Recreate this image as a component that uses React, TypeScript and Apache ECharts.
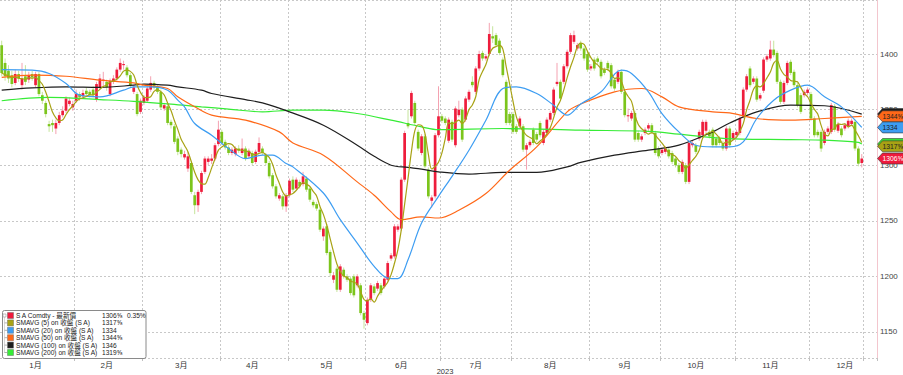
import React, { useEffect, useRef } from "react";
import * as echarts from "echarts";

// ---- axis / calendar ----
const monthLabels = ["1月", "2月", "3月", "4月", "5月", "6月", "7月", "8月", "9月", "10月", "11月", "12月"];
const monthDays = [22, 20, 23, 20, 23, 22, 21, 23, 21, 22, 22, 16]; // weekdays shown per month
const monthLabelSpan = [22, 20, 23, 20, 23, 22, 21, 23, 21, 22, 22, 21];
const padDays = 4;
const yearLabel = "2023";

// ---- candles: [open, close, low, high] ----
const candles: number[][] = [
  [1408,1383,1380,1412],[1392,1380,1376,1396],[1385,1378,1374,1390],[1381,1373,1370,1385],[1374,1382,1372,1386],
  [1382,1378,1375,1385],[1372,1378,1368,1392],[1380,1375,1372,1390],[1377,1381,1374,1384],[1382,1379,1376,1385],
  [1372,1382,1370,1384],[1382,1364,1362,1384],[1363,1358,1355,1366],[1356,1346,1343,1358],[1337,1335,1330,1340],
  [1338,1336,1330,1341],[1333,1338,1328,1341],[1338,1345,1336,1348],[1345,1349,1343,1353],[1349,1360,1347,1362],
  [1355,1358,1353,1361],[1352,1355,1349,1358],
  [1358,1364,1356,1368],[1364,1361,1358,1366],[1362,1365,1360,1368],[1367,1364,1362,1370],[1366,1363,1361,1368],
  [1368,1363,1361,1371],[1359,1373,1357,1375],[1370,1378,1368,1382],[1376,1377,1370,1384],[1375,1370,1367,1377],
  [1364,1376,1362,1378],[1375,1378,1373,1381],[1378,1386,1376,1388],[1386,1392,1384,1396],[1390,1391,1386,1394],
  [1388,1381,1379,1390],[1381,1372,1370,1383],[1366,1370,1364,1372],[1364,1346,1344,1366],[1348,1358,1346,1360],
  [1356,1361,1354,1363],[1358,1369,1356,1371],[1368,1374,1366,1380],[1374,1370,1368,1376],[1370,1366,1364,1372],
  [1366,1352,1350,1368],[1351,1354,1349,1356],[1353,1338,1336,1355],[1339,1336,1333,1341],[1335,1321,1319,1337],
  [1324,1312,1309,1326],[1314,1310,1307,1316],[1307,1310,1305,1313],[1297,1308,1294,1312],[1302,1276,1274,1304],
  [1273,1264,1256,1276],[1264,1276,1258,1278],[1276,1293,1274,1295],[1294,1306,1292,1308],[1303,1306,1300,1308],
  [1304,1306,1301,1310],[1306,1318,1304,1320],[1319,1332,1317,1340],
  [1330,1320,1318,1332],[1321,1316,1314,1323],[1316,1311,1309,1318],[1311,1314,1309,1316],[1310,1315,1308,1317],
  [1315,1313,1311,1318],[1311,1315,1309,1324],[1315,1306,1304,1317],[1308,1313,1306,1315],[1311,1302,1300,1313],
  [1303,1312,1301,1314],[1312,1320,1310,1325],[1315,1311,1309,1317],[1309,1302,1300,1311],[1302,1290,1288,1304],
  [1291,1281,1279,1293],[1281,1272,1270,1283],[1270,1273,1268,1275],[1272,1263,1260,1274],[1263,1273,1258,1275],
  [1273,1286,1271,1288],[1287,1278,1276,1290],[1279,1287,1277,1289],[1285,1281,1279,1287],[1283,1290,1281,1294],
  [1288,1278,1276,1290],[1279,1269,1267,1281],[1267,1264,1262,1269],[1265,1261,1259,1267],[1260,1242,1240,1262],
  [1236,1243,1232,1245],[1245,1221,1219,1247],[1222,1203,1200,1224],[1197,1201,1194,1204],[1207,1188,1186,1209],
  [1188,1209,1186,1211],[1206,1200,1198,1208],[1200,1197,1195,1202],[1198,1185,1183,1200],[1200,1183,1181,1202],
  [1192,1200,1190,1202],[1192,1167,1165,1194],[1167,1161,1153,1169],
  [1158,1179,1156,1181],[1179,1192,1177,1194],[1191,1185,1183,1193],[1189,1194,1187,1196],[1192,1185,1183,1194],
  [1191,1198,1189,1200],[1197,1212,1195,1214],[1216,1219,1214,1221],[1218,1245,1216,1247],[1242,1245,1240,1247],
  [1243,1287,1241,1289],[1287,1329,1285,1331],[1338,1335,1333,1350],[1344,1365,1342,1367],[1356,1338,1336,1358],
  [1330,1315,1313,1332],[1311,1326,1309,1328],[1326,1299,1297,1328],[1296,1272,1270,1298],[1268,1271,1262,1273],
  [1272,1327,1270,1329],[1327,1344,1325,1371],
  [1344,1340,1338,1346],[1342,1338,1336,1344],[1322,1341,1320,1343],[1339,1323,1321,1341],[1318,1351,1316,1353],
  [1345,1350,1343,1358],[1350,1323,1321,1352],[1341,1360,1339,1362],[1359,1366,1357,1368],[1375,1372,1370,1380],
  [1366,1387,1364,1389],[1387,1400,1385,1403],[1401,1396,1394,1403],[1396,1398,1394,1400],[1400,1418,1398,1428],
  [1416,1414,1410,1425],[1417,1408,1406,1419],[1412,1401,1399,1414],[1395,1381,1379,1397],[1375,1338,1336,1377],
  [1346,1338,1336,1348],
  [1346,1330,1328,1348],[1335,1330,1328,1337],[1335,1342,1333,1344],[1335,1314,1312,1337],[1314,1318,1296,1320],
  [1318,1321,1316,1323],[1332,1320,1318,1334],[1328,1323,1321,1330],[1338,1327,1325,1340],[1320,1330,1318,1332],
  [1329,1341,1327,1343],[1341,1347,1339,1349],[1347,1368,1345,1370],[1373,1375,1371,1392],[1375,1360,1358,1377],
  [1375,1389,1373,1391],[1389,1402,1387,1404],[1402,1417,1400,1419],[1411,1417,1409,1421],[1405,1408,1403,1410],
  [1410,1405,1403,1412],[1405,1396,1394,1407],[1400,1386,1384,1402],
  [1387,1389,1385,1391],[1395,1387,1385,1397],[1396,1393,1391,1398],[1393,1380,1378,1395],[1386,1383,1381,1388],
  [1392,1387,1385,1394],[1390,1371,1369,1392],[1377,1369,1367,1379],[1375,1384,1373,1386],[1384,1366,1364,1386],
  [1366,1345,1343,1368],[1344,1345,1339,1351],[1342,1347,1340,1349],[1347,1323,1321,1349],[1329,1323,1321,1331],
  [1323,1326,1321,1328],[1329,1332,1327,1334],[1333,1336,1331,1338],[1336,1330,1328,1338],[1329,1311,1309,1331],
  [1315,1308,1306,1317],
  [1311,1314,1309,1316],[1312,1315,1310,1317],[1314,1308,1306,1316],[1311,1303,1301,1313],[1306,1300,1298,1308],
  [1300,1294,1292,1302],[1294,1303,1292,1305],[1300,1285,1283,1302],[1285,1320,1283,1322],[1318,1320,1316,1322],
  [1318,1312,1310,1320],[1324,1330,1322,1332],[1327,1339,1325,1341],[1331,1339,1329,1341],[1330,1326,1324,1332],
  [1332,1318,1316,1334],[1324,1318,1316,1326],[1324,1320,1318,1326],[1320,1315,1313,1322],[1315,1333,1313,1335],
  [1333,1318,1316,1335],[1324,1329,1322,1331],
  [1327,1330,1325,1332],[1329,1342,1327,1344],[1344,1368,1342,1370],[1368,1380,1366,1382],[1387,1372,1370,1389],
  [1375,1378,1373,1380],[1378,1359,1357,1380],[1360,1363,1358,1365],[1367,1395,1365,1397],[1395,1398,1393,1400],
  [1396,1404,1394,1412],[1404,1399,1397,1412],[1401,1375,1373,1403],[1375,1357,1355,1377],[1357,1374,1355,1376],
  [1374,1392,1372,1394],[1393,1383,1381,1395],[1384,1372,1370,1386],[1372,1354,1352,1374],[1363,1348,1346,1365],
  [1363,1366,1361,1368],[1365,1368,1363,1370],
  [1364,1342,1340,1366],[1342,1327,1325,1344],[1330,1327,1325,1332],[1330,1315,1312,1332],[1320,1330,1318,1332],
  [1330,1333,1328,1335],[1330,1354,1328,1356],[1353,1332,1330,1355],[1331,1337,1329,1339],[1333,1327,1325,1335],
  [1333,1336,1331,1338],[1335,1340,1333,1342],[1337,1340,1335,1342],[1339,1315,1313,1341],[1315,1301.4,1299,1317],
  [1302,1306,1298,1310],
];

// ---- moving averages: [candle index, value] ----
const ma20: number[][] = [[0,1386],[9,1385.5],[14,1382.5],[19,1373.5],[23,1363],[29,1361.5],[36,1367.5],[39,1370.5],[44,1370.5],[49,1367.5],[52,1358.5],[54,1352.5],[57,1337.5],[62,1327],[67,1315],[72,1306],[77,1309],[80,1309],[84,1301.5],[86,1298.5],[95,1275],[100,1251],[105,1230],[110,1209],[114,1198.5],[117,1198],[120,1215],[124,1248],[129,1272],[133,1290],[138,1313.5],[143,1340.5],[148,1369],[152,1370.5],[158,1364.5],[163,1354],[167,1345],[171,1355],[177,1366],[183,1385.5],[186,1382.5],[191,1366],[195,1346.5],[200,1330],[205,1318],[210,1316.5],[215,1316.5],[219,1321],[223,1342],[228,1358.5],[233,1367.5],[238,1372],[243,1361.5],[248,1352.5],[254,1334]];
const ma50: number[][] = [[0,1379],[9,1381],[19,1380],[29,1376.5],[39,1374],[42,1372],[49,1369],[52,1361.5],[57,1352.5],[62,1345],[72,1340.5],[82,1330],[86,1320],[95,1309],[105,1285],[110,1273],[115,1258],[118,1251],[124,1253.5],[129,1252.5],[135,1259.5],[143,1274.5],[150,1295.5],[158,1316.5],[167,1348],[171,1355],[181,1366],[189,1369],[195,1361.5],[200,1352.5],[210,1348],[215,1347],[223,1342],[233,1340.5],[243,1342],[254,1344]];
const ma100: number[][] = [[0,1367.5],[9,1369.5],[19,1370.5],[29,1370],[39,1372],[42,1373],[49,1372],[52,1370.5],[59,1367.5],[62,1364.5],[72,1359],[77,1356],[85,1348],[95,1336],[105,1318],[110,1308],[115,1300],[120,1298],[124,1296.5],[129,1294],[138,1292],[148,1293.5],[158,1293.5],[167,1298.5],[171,1302.5],[181,1309],[191,1313.5],[200,1318],[210,1330],[215,1338],[223,1348],[233,1354],[243,1353.5],[254,1346]];
const ma200: number[][] = [[0,1358],[14,1361],[29,1359],[39,1357.5],[50,1355],[59,1352.5],[67,1350.5],[77,1348],[86,1349.5],[95,1349.5],[105,1346.5],[115,1340.5],[124,1334.5],[129,1332],[148,1333],[171,1331.5],[191,1330.5],[200,1328],[214,1324],[233,1323],[243,1322.5],[253,1320.5],[254,1319]];

// ---- legend ----
const legendNames = ["S A Comdty - 最新價", "SMAVG (5) on 收盤 (S A)", "SMAVG (20) on 收盤 (S A)", "SMAVG (50) on 收盤 (S A)", "SMAVG (100) on 收盤 (S A)", "SMAVG (200) on 收盤 (S A)"];
const legendValues = [1306, 1317, 1334, 1344, 1346, 1319];
const legendGlyph = [true, true, false, true, false, true];
const tagVisibleText = [true, true, true, true, false, false];
const lastChange = "0.35%";
const glyph = "⅝";
const seriesColors = ["#ef1a3c", "#a8a214", "#3d9df2", "#ff6818", "#1e1e1e", "#36ec36"];
const tagTextColors = ["#ffffff", "#222222", "#222222", "#222222", "#ffffff", "#222222"];
const tagOrder = [4, 3, 2, 5, 1, 0];

const FONT = "'Liberation Sans', 'Noto Sans CJK TC', sans-serif";

export default function App() {
  const ref = useRef<HTMLDivElement>(null);
  useEffect(() => {
    if (!ref.current) return;
    const chart = echarts.init(ref.current, undefined, { renderer: "svg" });

    const categories: string[] = [];
    const monthStarts: number[] = [];
    const labelAt: Record<number, string> = {};
    monthDays.forEach((n, m) => {
      const start = categories.length;
      monthStarts.push(start);
      labelAt[start + Math.round(monthLabelSpan[m] / 2) - 1] = monthLabels[m];
      for (let d = 0; d < n; d++) categories.push(`${m + 1}-${d + 1}`);
    });
    for (let p = 0; p < padDays; p++) categories.push(`pad-${p}`);
    monthStarts.push(categories.length - padDays);

    const closes = candles.map((c) => c[1]);
    const ma5 = closes.map((_, i) => {
      const s = Math.max(0, i - 4);
      const w = closes.slice(s, i + 1);
      return [i, w.reduce((a, b) => a + b, 0) / w.length];
    });

    const lineSeries = (data: number[][], color: string, smooth: boolean, z: number) => ({
      type: "line",
      data,
      showSymbol: false,
      smooth: smooth ? 0.35 : false,
      lineStyle: { color, width: 1.2 },
      z,
      silent: true,
    });

    chart.setOption({
      animation: false,
      grid: { left: 0, right: 26, top: 0, bottom: 17 },
      xAxis: {
        type: "category",
        data: categories,
        boundaryGap: true,
        axisLine: { show: false },
        axisTick: {
          show: true,
          interval: (i: number) => monthStarts.includes(i) && i > 0,
          length: 3,
          lineStyle: { color: "#c0c0c0" },
        },
        splitLine: {
          show: true,
          interval: (i: number) => monthStarts.includes(i) && i > 0,
          lineStyle: { color: "#c8c8c8", type: [2, 2], width: 1 },
        },
        axisLabel: {
          interval: (i: number) => labelAt[i] !== undefined,
          formatter: (_v: string, i: number) => labelAt[i] || "",
          fontSize: 8,
          color: "#333",
          fontFamily: FONT,
          margin: 3,
        },
      },
      yAxis: {
        type: "value",
        position: "right",
        min: 1126.6,
        max: 1448.6,
        splitNumber: 6,
        axisLine: { show: true, lineStyle: { color: "#f3c6ce" } },
        axisTick: { show: false },
        splitLine: { show: true, lineStyle: { color: "#c8c8c8", type: [2, 2], width: 1 } },
        axisLabel: {
          showMinLabel: false,
          showMaxLabel: false,
          formatter: (v: number) => String(Math.round(v)),
          fontSize: 8,
          color: "#444",
          fontFamily: FONT,
          margin: 3,
        },
      },
      series: [
        {
          type: "custom",
          z: 2,
          silent: true,
          data: candles.map((c, i) => [i, c[0], c[1], c[2], c[3]]),
          encode: { x: 0, y: [1, 2, 3, 4] },
          renderItem: (_p: any, api: any) => {
            const idx = api.value(0);
            const o = api.value(1), c = api.value(2), l = api.value(3), h = api.value(4);
            const pO = api.coord([idx, o]);
            const pC = api.coord([idx, c]);
            const pL = api.coord([idx, l]);
            const pH = api.coord([idx, h]);
            const w = api.size([1, 0])[0] * 0.8;
            const up = c >= o;
            const top = Math.min(pO[1], pC[1]);
            const hh = Math.max(Math.abs(pO[1] - pC[1]), 1);
            return {
              type: "group",
              children: [
                {
                  type: "line",
                  shape: { x1: pH[0], y1: pH[1], x2: pL[0], y2: pL[1] },
                  style: { stroke: up ? "#f4a2b1" : "#c6e59c", lineWidth: 1 },
                },
                {
                  type: "rect",
                  shape: { x: pO[0] - w / 2, y: top, width: w, height: hh },
                  style: { fill: up ? "#ee1d3c" : "#7cc51c" },
                },
              ],
            };
          },
        },
        lineSeries(ma200, seriesColors[5], true, 3),
        lineSeries(ma100, seriesColors[4], true, 3),
        lineSeries(ma50, seriesColors[3], true, 3),
        lineSeries(ma20, seriesColors[2], true, 3),
        lineSeries(ma5, seriesColors[1], true, 4),
      ],
    });

    // graphic: legend box, year label, right-side value tags
    const els: any[] = [];
    const bx = 2.5, by = 310.5, bw = 143.5, bh = 48;
    els.push({ type: "rect", shape: { x: bx, y: by, width: bw, height: bh, r: 2 }, style: { fill: "#fff", stroke: "#8a8a8a", lineWidth: 1 }, z: 10 });
    const rowY = (k: number) => 315.5 + k * 7.4;
    els.push({ type: "line", shape: { x1: 4.5, y1: rowY(0), x2: 4.5, y2: rowY(5) }, style: { stroke: "#b0b0b0", lineWidth: 1, lineDash: [1, 1] }, z: 11 });
    els.push({ type: "rect", shape: { x: 3, y: rowY(0) - 1.5, width: 3, height: 3 }, style: { fill: "#fff", stroke: "#999", lineWidth: 0.6 }, z: 12 });
    legendNames.forEach((name, k) => {
      const y = rowY(k);
      if (k > 0) els.push({ type: "line", shape: { x1: 4.5, y1: y, x2: 7, y2: y }, style: { stroke: "#b0b0b0", lineWidth: 1 }, z: 11 });
      els.push({ type: "rect", shape: { x: 7.5, y: y - 3, width: 6, height: 6 }, style: { fill: seriesColors[k], stroke: "#555", lineWidth: 0.4 }, z: 12 });
      els.push({ type: "text", x: 16, y, style: { text: name, fontSize: 6.6, fill: "#222", fontFamily: FONT, textVerticalAlign: "middle" }, z: 12 });
      els.push({ type: "text", x: 102, y, style: { text: String(legendValues[k]) + (legendGlyph[k] ? glyph : ""), fontSize: 6.6, fill: "#222", fontFamily: FONT, textVerticalAlign: "middle" }, z: 12 });
      if (k === 0) els.push({ type: "text", x: 127, y, style: { text: lastChange, fontSize: 6.6, fill: "#222", fontFamily: FONT, textVerticalAlign: "middle" }, z: 12 });
    });
    els.push({ type: "text", x: 445, y: 371, style: { text: yearLabel, fontSize: 7.5, fill: "#333", fontFamily: FONT, textAlign: "center", textVerticalAlign: "middle" }, z: 10 });

    const x0 = 877.5;
    tagOrder.forEach((k) => {
      const v = legendValues[k];
      const yc = chart.convertToPixel({ yAxisIndex: 0 } as any, v) as unknown as number;
      els.push({
        type: "polygon",
        shape: { points: [[x0, yc], [x0 + 5, yc - 5.5], [x0 + 32, yc - 5.5], [x0 + 32, yc + 5.5], [x0 + 5, yc + 5.5]] },
        style: { fill: seriesColors[k], stroke: "#333", lineWidth: 0.6 },
        z: 20,
      });
      if (tagVisibleText[k]) {
        els.push({
          type: "text",
          x: x0 + 5,
          y: yc,
          style: { text: String(v) + (legendGlyph[k] ? glyph : ""), fontSize: 6.8, fill: tagTextColors[k], fontFamily: FONT, textVerticalAlign: "middle" },
          z: 21,
        });
      }
    });
    chart.setOption({ graphic: { elements: els } });

    return () => chart.dispose();
  }, []);

  return <div ref={ref} style={{ position: "absolute", left: 0, top: 0, width: 903, height: 375 }} />;
}
